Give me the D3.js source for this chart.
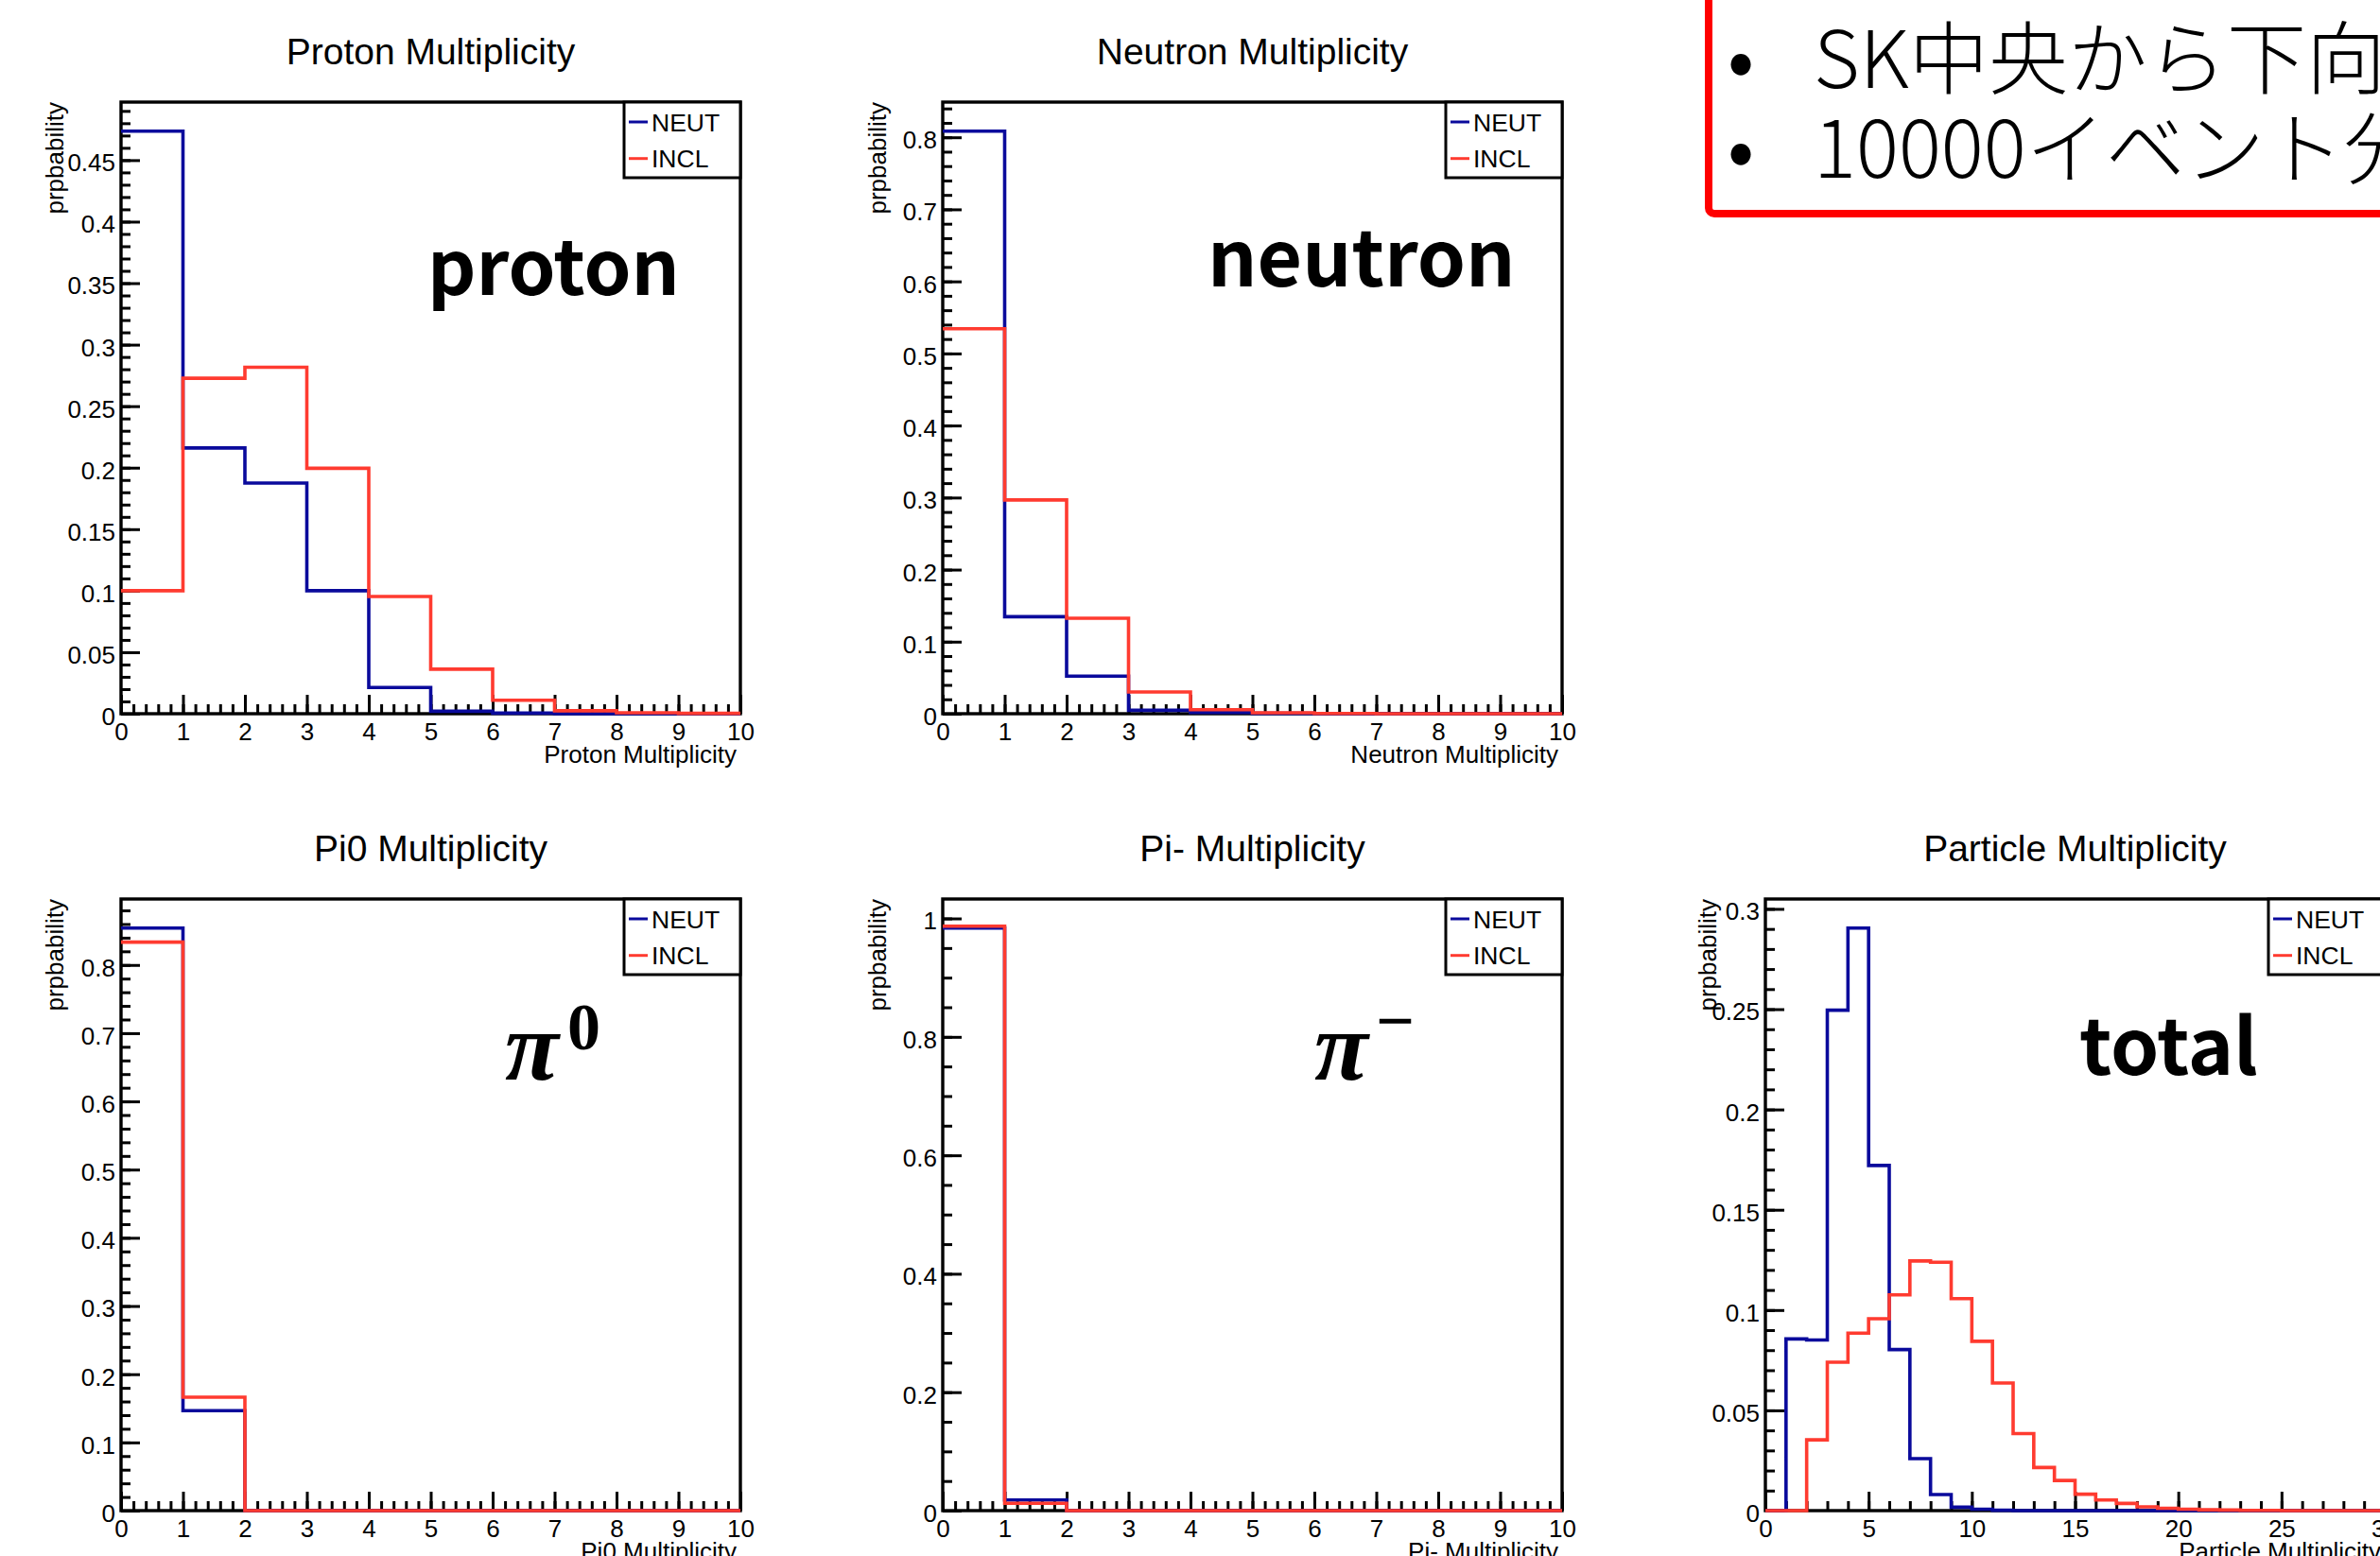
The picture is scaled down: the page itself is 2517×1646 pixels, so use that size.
<!DOCTYPE html>
<html><head><meta charset="utf-8">
<script src="https://cdn.jsdelivr.net/npm/d3@7"></script>
<style>html,body{margin:0;padding:0;background:#fff;overflow:hidden}</style>
</head><body>
<svg id="c" width="2517" height="1646" xmlns="http://www.w3.org/2000/svg"></svg>
<script>
// ---------------- DATA ----------------
const seriesNames = ["NEUT", "INCL"];
// bin contents (probability) for bins [0,1),[1,2),...
const protonNEUT  = [0.4735, 0.216, 0.1875, 0.100, 0.0213, 0.002, 0.0005, 0, 0, 0];
const protonINCL  = [0.100, 0.2727, 0.2816, 0.1995, 0.0953, 0.0362, 0.0109, 0.0024, 0.0008, 0.0003];
const neutronNEUT = [0.8084, 0.1346, 0.0522, 0.0048, 0.0018, 0.0005, 0.0001, 0, 0, 0];
const neutronINCL = [0.5343, 0.2967, 0.1326, 0.0302, 0.0055, 0.0014, 0.0003, 0, 0, 0];
const pi0NEUT     = [0.854, 0.1465, 0, 0, 0, 0, 0, 0, 0, 0];
const pi0INCL     = [0.8334, 0.1664, 0, 0, 0, 0, 0, 0, 0, 0];
const piMinusNEUT = [0.9836, 0.018, 0, 0, 0, 0, 0, 0, 0, 0];
const piMinusINCL = [0.987, 0.0123, 0, 0, 0, 0, 0, 0, 0, 0];
const totalNEUT   = [0, 0.0856, 0.0851, 0.2495, 0.2904, 0.1721, 0.0803, 0.0259, 0.008, 0.0017,
                     0.0007, 0.0002, 0, 0, 0, 0, 0, 0, 0, 0,
                     0, 0, 0, 0, 0, 0, 0, 0, 0, 0];
const totalINCL   = [0, 0, 0.0353, 0.074, 0.0885, 0.0957, 0.1076, 0.1245, 0.1238, 0.1057,
                     0.0844, 0.0636, 0.0384, 0.0215, 0.015, 0.0082, 0.0053, 0.0036, 0.0019, 0.0012,
                     0.0007, 0.0004, 0.0003, 0.0001, 0.0001, 0, 0, 0, 0, 0];

// tick labels
const xTicks10      = [0,1,2,3,4,5,6,7,8,9,10];
const xLabels10     = ["0","1","2","3","4","5","6","7","8","9","10"];
const xTicks30      = [0,5,10,15,20,25,30];
const xLabels30     = ["0","5","10","15","20","25","30"];
const protonYTicks  = [0,0.05,0.1,0.15,0.2,0.25,0.3,0.35,0.4,0.45];
const protonYLabels = ["0","0.05","0.1","0.15","0.2","0.25","0.3","0.35","0.4","0.45"];
const tenthYTicks   = [0,0.1,0.2,0.3,0.4,0.5,0.6,0.7,0.8];
const tenthYLabels  = ["0","0.1","0.2","0.3","0.4","0.5","0.6","0.7","0.8"];
const piMinusYTicks = [0,0.2,0.4,0.6,0.8,1];
const piMinusYLabels= ["0","0.2","0.4","0.6","0.8","1"];
const totalYTicks   = [0,0.05,0.1,0.15,0.2,0.25,0.3];
const totalYLabels  = ["0","0.05","0.1","0.15","0.2","0.25","0.3"];

const titles  = ["Proton Multiplicity","Neutron Multiplicity","Pi0 Multiplicity","Pi- Multiplicity","Particle Multiplicity"];
const yTitle  = "prpbability";
const noteLines = ["SK中央から下向きに","10000イベント分"];

// ---------------- LAYOUT ----------------
const FW = 655, FH = 647;
const NEUT_COLOR = "#0a0a9c", INCL_COLOR = "#ff3b30";
const SANS = "'Liberation Sans', Arial, Helvetica, sans-serif";
const svg = d3.select("#c");

const panels = [
  {left:128,  top:108, nb:10, neut:protonNEUT,  incl:protonINCL,  xt:xTicks10, xl:xLabels10, xMinor:0.2,
   yt:protonYTicks, yl:protonYLabels, yMinor:0.01, title:titles[0], ytOff:61},
  {left:997,  top:108, nb:10, neut:neutronNEUT, incl:neutronINCL, xt:xTicks10, xl:xLabels10, xMinor:0.2,
   yt:tenthYTicks, yl:tenthYLabels, yMinor:0.02, title:titles[1], ytOff:60},
  {left:128,  top:951, nb:10, neut:pi0NEUT,     incl:pi0INCL,     xt:xTicks10, xl:xLabels10, xMinor:0.2,
   yt:tenthYTicks, yl:tenthYLabels, yMinor:0.02, title:titles[2], ytOff:61},
  {left:997,  top:951, nb:10, neut:piMinusNEUT, incl:piMinusINCL, xt:xTicks10, xl:xLabels10, xMinor:0.2,
   yt:piMinusYTicks, yl:piMinusYLabels, yMinor:0.05, title:titles[3], ytOff:60},
  {left:1867, top:951, nb:30, neut:totalNEUT,   incl:totalINCL,   xt:xTicks30, xl:xLabels30, xMinor:1,
   yt:totalYTicks, yl:totalYLabels, yMinor:0.01, title:titles[4], ytOff:52}
];

function rangeStep(max, step){
  const out=[]; const n=Math.floor(max/step+1e-9);
  for(let i=0;i<=n;i++) out.push(Math.round(i*step*1e6)/1e6);
  return out;
}

panels.forEach(p=>{
  const g = svg.append("g");
  const right = p.left+FW, bottom = p.top+FH;
  const x = d3.scaleLinear().domain([0,p.nb]).range([p.left,right]);
  const ymax = 1.05*d3.max(p.neut);
  const y = d3.scaleLinear().domain([0,ymax]).range([bottom,p.top]);

  // title
  g.append("text").attr("x",(p.left+right)/2).attr("y",p.top-40)
    .attr("text-anchor","middle").attr("font-family",SANS).attr("font-size",39)
    .attr("fill","#000").text(p.title);

  // frame
  g.append("rect").attr("x",p.left).attr("y",p.top).attr("width",FW).attr("height",FH)
    .attr("fill","none").attr("stroke","#000").attr("stroke-width",3.4);

  // y ticks (inward)
  const yMin = rangeStep(ymax,p.yMinor);
  const ax1 = g.append("g").attr("transform",`translate(${p.left},0)`)
    .call(d3.axisRight(y).tickValues(yMin).tickSize(10).tickFormat(""));
  const ax2 = g.append("g").attr("transform",`translate(${p.left},0)`)
    .call(d3.axisRight(y).tickValues(p.yt).tickSize(20).tickFormat(""));
  // x ticks (inward)
  const xMin = rangeStep(p.nb,p.xMinor);
  const ax3 = g.append("g").attr("transform",`translate(0,${bottom})`)
    .call(d3.axisTop(x).tickValues(xMin).tickSize(10).tickFormat(""));
  const ax4 = g.append("g").attr("transform",`translate(0,${bottom})`)
    .call(d3.axisTop(x).tickValues(p.xt).tickSize(20).tickFormat(""));
  [ax1,ax2,ax3,ax4].forEach(a=>{
    a.select(".domain").remove();
    a.selectAll("line").attr("stroke","#000").attr("stroke-width",3);
  });

  // labels
  const yl = g.append("g").attr("transform",`translate(${p.left},0)`)
    .call(d3.axisLeft(y).tickValues(p.yt).tickSize(0).tickPadding(6).tickFormat((d,i)=>p.yl[i]));
  yl.select(".domain").remove();
  yl.attr("font-family",SANS).attr("font-size",26);
  yl.selectAll("text").attr("dy","0.44em").attr("fill","#000");
  const xl = g.append("g").attr("transform",`translate(0,${bottom})`)
    .call(d3.axisBottom(x).tickValues(p.xt).tickSize(0).tickPadding(28).tickFormat((d,i)=>p.xl[i]));
  xl.select(".domain").remove();
  xl.attr("font-family",SANS).attr("font-size",26);
  xl.selectAll("text").attr("dy","0").attr("fill","#000");

  // histograms
  const line = d3.line().x(d=>x(d[0])).y(d=>y(d[1])).curve(d3.curveStepAfter);
  [[p.neut,NEUT_COLOR],[p.incl,INCL_COLOR]].forEach(([vals,col])=>{
    const pts = vals.map((v,i)=>[i,v]); pts.push([vals.length, vals[vals.length-1]]);
    g.append("path").attr("d",line(pts)).attr("fill","none")
      .attr("stroke",col).attr("stroke-width",3.6).attr("stroke-linejoin","miter");
  });

  // legend
  const lg = g.append("g");
  lg.append("rect").attr("x",right-123).attr("y",p.top).attr("width",123).attr("height",80)
    .attr("fill","#fff").attr("stroke","#000").attr("stroke-width",3);
  seriesNames.forEach((name,i)=>{
    const yy = p.top+21+i*38.7;
    lg.append("line").attr("x1",right-118).attr("x2",right-98).attr("y1",yy).attr("y2",yy)
      .attr("stroke",i===0?NEUT_COLOR:INCL_COLOR).attr("stroke-width",3);
    lg.append("text").attr("x",right-94).attr("y",yy+9.5).attr("font-family",SANS)
      .attr("font-size",26.5).attr("fill","#000").text(name);
  });

  // axis titles
  g.append("text").attr("transform",`translate(${p.left-p.ytOff},${p.top}) rotate(-90)`)
    .attr("text-anchor","end").attr("font-family",SANS).attr("font-size",26).attr("fill","#000").text(yTitle);
  g.append("text").attr("x",right-4).attr("y",bottom+52).attr("text-anchor","end")
    .attr("font-family",SANS).attr("font-size",26).attr("fill","#000").text(p.title);
});

// ---------------- annotations ----------------
const BIG = "'Noto Sans CJK JP', 'Noto Sans', sans-serif";
svg.append("text").attr("x",452).attr("y",312).attr("font-family",BIG).attr("font-weight",700)
  .attr("font-size",80).text("proton");
svg.append("text").attr("x",1277).attr("y",303).attr("font-family",BIG).attr("font-weight",700)
  .attr("font-size",82).text("neutron");
svg.append("text").attr("x",2199).attr("y",1137).attr("font-family",BIG).attr("font-weight",700)
  .attr("font-size",82).text("total");

const SERIF = "'Liberation Serif', 'Times New Roman', serif";
const t0 = svg.append("text").attr("x",534).attr("y",1142).attr("font-family",SERIF).attr("font-weight",700);
t0.append("tspan").attr("font-style","italic").attr("font-size",104).text("π");
t0.append("tspan").attr("x",600).attr("y",1110).attr("font-size",70).text("0");
const t1 = svg.append("text").attr("x",1390).attr("y",1142).attr("font-family",SERIF).attr("font-weight",700);
t1.append("tspan").attr("font-style","italic").attr("font-size",104).text("π");
t1.append("tspan").attr("x",1455).attr("y",1104).attr("font-size",72).text("−");

// note box
svg.append("rect").attr("x",1807).attr("y",-60).attr("width",900).attr("height",286).attr("rx",6)
  .attr("fill","#fff").attr("stroke","#ff0000").attr("stroke-width",8);
const JP = "'Noto Sans CJK JP', sans-serif";
noteLines.forEach((s,i)=>{
  const by = 93 + i*95;
  svg.append("text").attr("x",1841).attr("y",by).attr("text-anchor","middle").attr("font-family",JP)
    .attr("font-size",84).attr("fill","#000").text("•");
  svg.append("text").attr("x",1918).attr("y",by).attr("font-family",JP).attr("font-weight",300)
    .attr("font-size",84).attr("fill","#000").text(s);
});
</script>
</body></html>
